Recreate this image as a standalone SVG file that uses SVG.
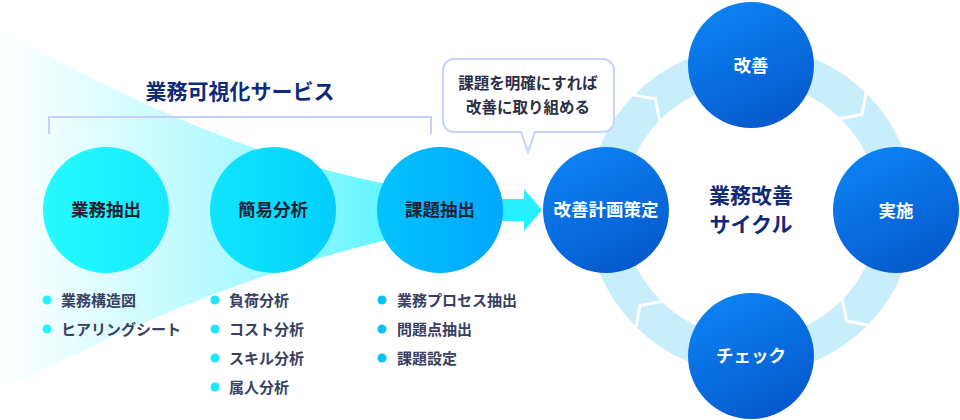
<svg xmlns="http://www.w3.org/2000/svg" width="960" height="420" viewBox="0 0 960 420">
  <defs>
    <linearGradient id="funnelGrad" gradientUnits="userSpaceOnUse" x1="0" y1="0" x2="542" y2="0">
      <stop offset="0" stop-color="#ffffff"/>
      <stop offset="0.2" stop-color="#dcfdff"/>
      <stop offset="0.45" stop-color="#aaf9ff"/>
      <stop offset="0.65" stop-color="#72f6ff"/>
      <stop offset="0.9" stop-color="#30f1ff"/>
      <stop offset="1" stop-color="#22f0ff"/>
    </linearGradient>
    <linearGradient id="leftGrad" gradientUnits="userSpaceOnUse" x1="43" y1="0" x2="503" y2="0">
      <stop offset="0" stop-color="#26faff"/>
      <stop offset="0.5" stop-color="#08dcfc"/>
      <stop offset="1" stop-color="#00a6fe"/>
    </linearGradient>
    <linearGradient id="blueGrad" x1="0.2" y1="0" x2="0.7" y2="1">
      <stop offset="0" stop-color="#0c84f5"/>
      <stop offset="1" stop-color="#0558cb"/>
    </linearGradient>
    <path id="chev" d="M749,45 L762,64 L749,83" fill="none" stroke="#ffffff" stroke-width="3" stroke-linejoin="miter"/>
  </defs>
  <style>
    text { font-family: "Noto Sans CJK JP", "Noto Sans", sans-serif; font-weight: 700; }
    .lbl { font-size: 17.5px; fill: #1c2233; text-anchor: middle; }
    .wlbl { font-size: 17.5px; fill: #ffffff; text-anchor: middle; }
    .head { font-size: 21px; fill: #0f2a7a; text-anchor: middle; }
    .bul { font-size: 15px; fill: #3a4060; }
    .bub { font-size: 15.5px; fill: #2a2f45; text-anchor: middle; }
    .leftc { fill: url(#leftGrad); }
    .bluec { fill: url(#blueGrad); }
  </style>

  <g id="connectors">
    <path id="funnel" d="M0,29 C110,90 250,163 420,190 L420,232 C250,270 120,330 0,392 Z" fill="url(#funnelGrad)"/>
    <path id="arrow" d="M430,199 H524 V189 L542,210 L524,231 V221 H430 Z" fill="#26f0ff"/>
    <circle id="cycle-ring" cx="751" cy="210" r="146" fill="none" stroke="#c8eefc" stroke-width="36"/>
    <use href="#chev" transform="rotate(-45 751 210)"/>
    <use href="#chev" transform="rotate(45 751 210)"/>
    <use href="#chev" transform="rotate(135 751 210)"/>
    <use href="#chev" transform="rotate(225 751 210)"/>
  </g>

  <g id="service-title">
    <text class="head" x="240" y="99">業務可視化サービス</text>
    <path d="M49,134 V117 H431 V134" fill="none" stroke="#c6cff7" stroke-width="2"/>
  </g>

  <g id="callout">
    <path d="M454,59 H603 A11,11 0 0 1 614,70 V121 A11,11 0 0 1 603,132 H535 L528,152 L521,132 H454 A11,11 0 0 1 443,121 V70 A11,11 0 0 1 454,59 Z" fill="#ffffff" stroke="#c9d2fa" stroke-width="2"/>
    <text class="bub" x="528" y="89">課題を明確にすれば</text>
    <text class="bub" x="528" y="113">改善に取り組める</text>
  </g>

  <g id="node-gyomu-chushutsu">
    <circle class="leftc" cx="106" cy="210" r="63"/>
    <text class="lbl" x="106" y="216">業務抽出</text>
  </g>
  <g id="node-kan-i-bunseki">
    <circle class="leftc" cx="273" cy="210" r="63"/>
    <text class="lbl" x="273" y="216">簡易分析</text>
  </g>
  <g id="node-kadai-chushutsu">
    <circle class="leftc" cx="440" cy="210" r="63"/>
    <text class="lbl" x="440" y="216">課題抽出</text>
  </g>

  <g id="list-1">
    <circle cx="47" cy="300" r="4.5" fill="#26f2ff"/>
    <text class="bul" x="61" y="305.5">業務構造図</text>
    <circle cx="47" cy="329" r="4.5" fill="#26f2ff"/>
    <text class="bul" x="61" y="334.5">ヒアリングシート</text>
  </g>
  <g id="list-2">
    <circle cx="215" cy="300" r="4.5" fill="#1de6fd"/>
    <text class="bul" x="229" y="305.5">負荷分析</text>
    <circle cx="215" cy="329" r="4.5" fill="#1de6fd"/>
    <text class="bul" x="229" y="334.5">コスト分析</text>
    <circle cx="215" cy="358" r="4.5" fill="#1de6fd"/>
    <text class="bul" x="229" y="363.5">スキル分析</text>
    <circle cx="215" cy="387" r="4.5" fill="#1de6fd"/>
    <text class="bul" x="229" y="392.5">属人分析</text>
  </g>
  <g id="list-3">
    <circle cx="382" cy="300" r="4.5" fill="#05c2fd"/>
    <text class="bul" x="397" y="305.5">業務プロセス抽出</text>
    <circle cx="382" cy="329" r="4.5" fill="#05c2fd"/>
    <text class="bul" x="397" y="334.5">問題点抽出</text>
    <circle cx="382" cy="358" r="4.5" fill="#05c2fd"/>
    <text class="bul" x="397" y="363.5">課題設定</text>
  </g>

  <g id="node-keikaku">
    <circle class="bluec" cx="606" cy="210" r="63"/>
    <text class="wlbl" x="606" y="216">改善計画策定</text>
  </g>
  <g id="node-kaizen">
    <circle class="bluec" cx="751" cy="65" r="63"/>
    <text class="wlbl" x="751" y="72">改善</text>
  </g>
  <g id="node-jisshi">
    <circle class="bluec" cx="896" cy="210" r="63"/>
    <text class="wlbl" x="896" y="217">実施</text>
  </g>
  <g id="node-check">
    <circle class="bluec" cx="751" cy="356" r="63"/>
    <text class="wlbl" x="751" y="362">チェック</text>
  </g>

  <g id="cycle-title">
    <text class="head" x="751" y="203">業務改善</text>
    <text class="head" x="751" y="232">サイクル</text>
  </g>
</svg>
